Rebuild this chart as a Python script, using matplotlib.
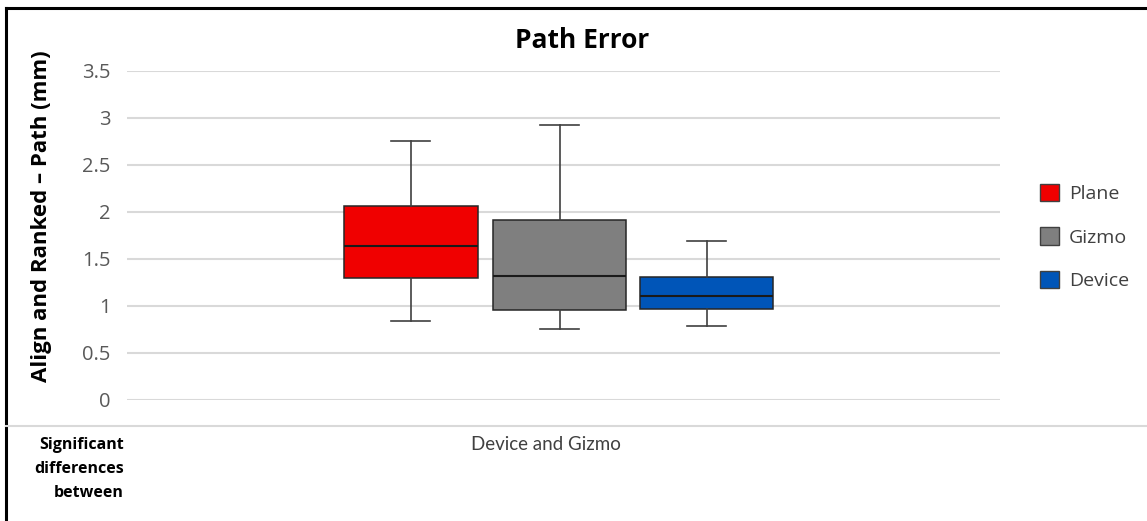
import matplotlib
matplotlib.use("Agg")
import matplotlib.pyplot as plt
from matplotlib.patches import Patch
from matplotlib.lines import Line2D

# box statistics per group (mm)
groups = ["Plane", "Gizmo", "Device"]
whislo = [0.84, 0.75, 0.78]
q1 = [1.29, 0.95, 0.97]
med = [1.63, 1.32, 1.10]
q3 = [2.06, 1.91, 1.31]
whishi = [2.75, 2.92, 1.69]
colores = ["#F00000", "#7F7F7F", "#0055B8"]

yticks = [0, 0.5, 1, 1.5, 2, 2.5, 3, 3.5]
ytick_labels = ["0", "0.5", "1", "1.5", "2", "2.5", "3", "3.5"]

W, H = 1147, 521
fig = plt.figure(figsize=(W / 100, H / 100), dpi=100)
ax = fig.add_axes([127 / W, (H - 399.7) / H, 873 / W, 329 / H])

stats = []
for i in range(len(groups)):
    stats.append(dict(label=groups[i], whislo=whislo[i], q1=q1[i], med=med[i],
                      q3=q3[i], whishi=whishi[i], fliers=[]))

pos = [0.325, 0.4955, 0.664]
bp = ax.bxp(stats, positions=pos, widths=0.153, patch_artist=True,
            showfliers=False, manage_ticks=False,
            boxprops=dict(linewidth=1.1, edgecolor="#262626"),
            medianprops=dict(color="#1a1a1a", linewidth=1.5),
            whiskerprops=dict(color="#404040", linewidth=1.2),
            capprops=dict(color="#404040", linewidth=1.2),
            capwidths=0.045)
for caja, col in zip(bp["boxes"], colores):
    caja.set_facecolor(col)

ax.set_xlim(0, 1)
ax.set_ylim(0, 3.5)
ax.set_yticks(yticks)
ax.set_yticklabels(ytick_labels, fontsize=14.5, color="#595959", family="Open Sans")
ax.tick_params(axis="y", length=0, pad=12)
ax.set_xticks([])
ax.grid(axis="y", color="#D9D9D9", linewidth=1.5)
ax.set_axisbelow(True)
for s in ax.spines.values():
    s.set_visible(False)

fig.text(582 / W, (H - 41) / H, "Path Error", ha="center", va="center",
         fontsize=19, fontweight="bold", family="Open Sans", color="black")
fig.text(42 / W, (H - 216) / H, "Align and Ranked \u2013 Path (mm)", rotation=90,
         ha="center", va="center", fontsize=16, fontweight="bold",
         family="Open Sans", color="black")

# legend on the right
manijas = [Patch(facecolor=c, edgecolor="#404040", linewidth=1.0) for c in colores]
fig.legend(manijas, groups, loc="upper left", bbox_to_anchor=(1022 / W, (H - 166) / H),
           frameon=False, handlelength=1.0, handleheight=1.0, handletextpad=0.5,
           labelspacing=1.25, prop=dict(family="Open Sans", size=14),
           labelcolor="#404040")

# frame and table row below the plot
fig.add_artist(Line2D([6 / W, 6 / W], [0, (H - 8) / H], color="black", linewidth=2.2))
fig.add_artist(Line2D([6 / W, 1], [(H - 8) / H, (H - 8) / H], color="black", linewidth=2.2))
fig.add_artist(Line2D([6 / W, 1], [(H - 426) / H, (H - 426) / H], color="#D9D9D9", linewidth=1.5))

fig.text(124 / W, (H - 437) / H, "Significant\ndifferences\nbetween", ha="right", va="top",
         fontsize=11.5, fontweight="bold", family="Open Sans", linespacing=1.65)
fig.text(471 / W, (H - 445) / H, "Device and Gizmo", ha="left", va="center",
         fontsize=13.5, family="Lato", color="#404040")

fig.savefig("out.png", dpi=100)
